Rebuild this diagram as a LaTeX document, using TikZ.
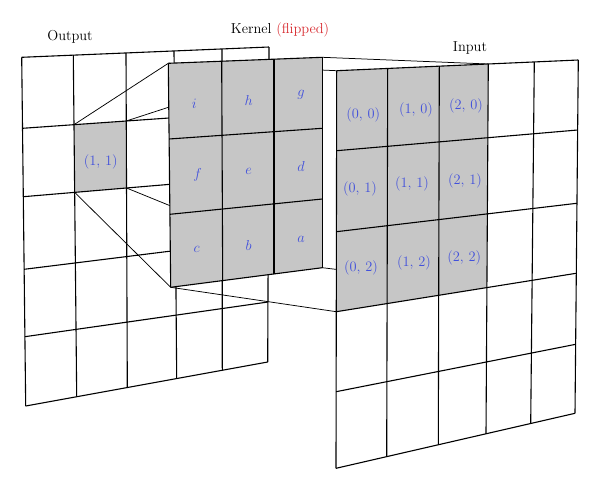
\documentclass[tikz,border=0pt]{standalone}
\definecolor{cellgray}{RGB}{198,198,198}
\definecolor{lblblue}{RGB}{65,80,220}
\definecolor{flipred}{RGB}{215,40,45}
\begin{document}
\begin{tikzpicture}[x=1pt,y=-1pt,
  gridline/.style={line width=1.1pt,line join=miter},
  conn/.style={line width=0.75pt},
  lbl/.style={text=lblblue,font=\Large,inner sep=0pt},
  ttl/.style={font=\Large,inner sep=0pt,anchor=base}]
\useasboundingbox (0,0) rectangle (600,490);
% ---------- output grid ----------
\coordinate (OT0) at (21.7,57.3);  \coordinate (OB0) at (25.7,406);
\coordinate (OT1) at (73.3,55.15); \coordinate (OB1) at (76.7,396.7);
\coordinate (OT2) at (126,53);     \coordinate (OB2) at (127.3,387.5);
\coordinate (OT3) at (174,51);     \coordinate (OB3) at (176.7,378.5);
\coordinate (OT4) at (222,49);     \coordinate (OB4) at (222.3,370.3);
\coordinate (OT5) at (269,47);     \coordinate (OB5) at (267.7,362);
\coordinate (OL0) at (21.7,57.3);  \coordinate (OR0) at (269,47);
\coordinate (OL1) at (22.5,128.3); \coordinate (OR1) at (268.7,111);
\coordinate (OL2) at (23.3,196.7); \coordinate (OR2) at (268.5,176);
\coordinate (OL3) at (24.1,269.3); \coordinate (OR3) at (268.2,239);
\coordinate (OL4) at (24.9,336.7); \coordinate (OR4) at (267.9,302);
\coordinate (OL5) at (25.7,406);   \coordinate (OR5) at (267.7,362);
\coordinate (CTL) at (intersection of OT1--OB1 and OL1--OR1);
\coordinate (CTR) at (intersection of OT2--OB2 and OL1--OR1);
\coordinate (CBL) at (intersection of OT1--OB1 and OL2--OR2);
\coordinate (CBR) at (intersection of OT2--OB2 and OL2--OR2);
\fill[cellgray] (CTL) -- (CTR) -- (CBR) -- (CBL) -- cycle;
\foreach \i in {0,...,5} {
  \draw[gridline] (OT\i) -- (OB\i);
  \draw[gridline] (OL\i) -- (OR\i);
}
% ---------- kernel corners ----------
\coordinate (KT0) at (168.3,63.3); \coordinate (KB0) at (170.7,287.3);
\coordinate (KT1) at (221.7,61.2); \coordinate (KB1) at (222.7,280.6);
\coordinate (KT2) at (274,59.2);   \coordinate (KB2) at (274,274);
\coordinate (KT3) at (322.3,57.3); \coordinate (KB3) at (322.3,267.7);
\coordinate (KL0) at (168.3,63.3); \coordinate (KR0) at (322.3,57.3);
\coordinate (KL1) at (169.1,139);  \coordinate (KR1) at (322.3,128.3);
\coordinate (KL2) at (169.9,214.3);\coordinate (KR2) at (322.3,199);
\coordinate (KL3) at (170.7,287.3);\coordinate (KR3) at (322.3,267.7);
% ---------- input corners ----------
\coordinate (IT0) at (336.7,70.7); \coordinate (IB0) at (336,468.3);
\coordinate (IT1) at (387.7,68.4); \coordinate (IB1) at (386.7,456.6);
\coordinate (IT2) at (439.3,66.1); \coordinate (IB2) at (438.3,444.8);
\coordinate (IT3) at (488.3,64);   \coordinate (IB3) at (486,433.8);
\coordinate (IT4) at (534.3,62);   \coordinate (IB4) at (530.7,423.5);
\coordinate (IT5) at (578.3,60);   \coordinate (IB5) at (575,413.3);
\coordinate (IL0) at (336.7,70.7); \coordinate (IR0) at (578.3,60);
\coordinate (IL1) at (336.6,150.7);\coordinate (IR1) at (577.6,130);
\coordinate (IL2) at (336.4,231.7);\coordinate (IR2) at (576.8,203.3);
\coordinate (IL3) at (336.3,311.7);\coordinate (IR3) at (576.1,273.3);
\coordinate (IL4) at (336.1,391.7);\coordinate (IR4) at (575.7,344.3);
\coordinate (IL5) at (336,468.3);  \coordinate (IR5) at (575,413.3);
\coordinate (IGBR) at (intersection of IT3--IB3 and IL3--IR3);
% ---------- connectors ----------
\draw[conn] (CTL) -- (KT0);
\draw[conn] (CTR) -- (KT3);
\draw[conn] (CBL) -- (KB0);
\draw[conn] (CBR) -- (KB3);
\draw[conn] (KT0) -- (IT0);
\draw[conn] (KT3) -- (IT3);
\draw[conn] (KB0) -- (IL3);
\draw[conn] (KB3) -- (IGBR);
% ---------- kernel ----------
\fill[cellgray] (KT0) -- (KT3) -- (KB3) -- (KB0) -- cycle;
\foreach \i in {0,...,3} {
  \draw[gridline] (KT\i) -- (KB\i);
  \draw[gridline] (KL\i) -- (KR\i);
}
% ---------- input ----------
\fill[white] (IT0) -- (IT5) -- (IB5) -- (IB0) -- cycle;
\fill[cellgray] (IT0) -- (IT3) -- (IGBR) -- (IL3) -- cycle;
\foreach \i in {0,...,5} {
  \draw[gridline] (IT\i) -- (IB\i);
  \draw[gridline] (IL\i) -- (IR\i);
}
% ---------- labels ----------
\node[lbl] (o11) at (100.7,162.3) {(1, 1)};
\node[lbl] (ki) at (194.3,103.3) {$i$};
\node[lbl] (kh) at (248.7,100) {$h$};
\node[lbl] (kg) at (301,95) {$g$};
\node[lbl] (kf) at (197.7,175) {$f$};
\node[lbl] (ke) at (248.7,171) {$e$};
\node[lbl] (kd) at (301,166.7) {$d$};
\node[lbl] (kc) at (196.7,249.3) {$c$};
\node[lbl] (kb) at (248.7,245) {$b$};
\node[lbl] (ka) at (301,239.3) {$a$};
\node[lbl] (i00) at (363.3,115) {(0, 0)};
\node[lbl] (i10) at (416,110) {(1, 0)};
\node[lbl] (i20) at (466,106) {(2, 0)};
\node[lbl] (i01) at (360,189.3) {(0, 1)};
\node[lbl] (i11) at (412,184) {(1, 1)};
\node[lbl] (i21) at (465,180.7) {(2, 1)};
\node[lbl] (i02) at (361,268.3) {(0, 2)};
\node[lbl] (i12) at (414,262.7) {(1, 2)};
\node[lbl] (i22) at (464.3,257.7) {(2, 2)};
% ---------- titles ----------
\node[ttl] (tout) at (70,40.7) {Output};
\node[ttl] (tker) at (280,33.3) {Kernel \textcolor{flipred}{(flipped)}};
\node[ttl] (tin) at (470,51.7) {Input};
\end{tikzpicture}
\end{document}
